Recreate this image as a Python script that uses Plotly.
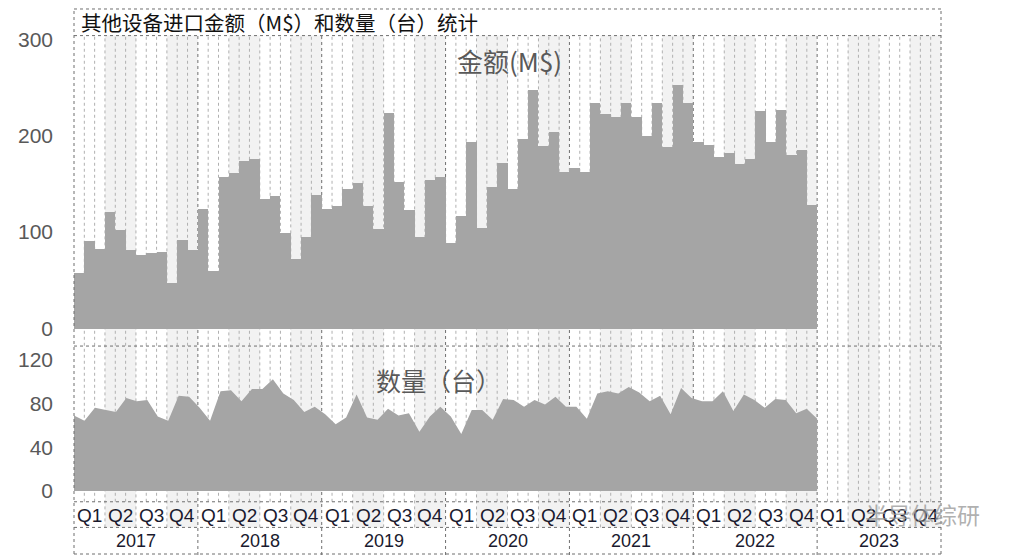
import numpy as np
import plotly.graph_objects as go

# ---------------- data ----------------
years = ["2017", "2018", "2019", "2020", "2021", "2022", "2023"]
quarters = ["Q1", "Q2", "Q3", "Q4"]
title_text = "其他设备进口金额（M$）和数量（台）统计"
amount_label = "金额(M$)"
qty_label = "数量（台）"

# monthly import amount (M$), Jan 2017 - Dec 2022
amount_musd = [58, 91, 83, 121, 103, 82, 77, 79, 80, 47, 92, 82,
               124, 60, 158, 162, 174, 176, 135, 138, 99, 72, 95, 139,
               124, 128, 145, 151, 127, 104, 224, 152, 123, 95, 155, 158,
               89, 117, 194, 105, 147, 172, 145, 197, 248, 190, 204, 163,
               167, 163, 235, 223, 220, 234, 220, 200, 235, 189, 253, 235,
               194, 191, 178, 183, 171, 176, 226, 194, 227, 180, 186, 129]

# monthly import quantity (units)
quantity_units = [69, 64, 76, 74, 72, 85, 82, 83, 68, 64, 87, 86,
                  76, 64, 91, 92, 82, 93, 93, 102, 89, 83, 72, 77,
                  70, 61, 67, 88, 67, 65, 75, 69, 71, 54, 68, 77,
                  68, 52, 74, 74, 65, 84, 83, 77, 83, 79, 86, 77,
                  77, 66, 89, 91, 89, 95, 90, 82, 87, 70, 94, 85,
                  82, 82, 91, 73, 88, 83, 76, 84, 83, 71, 75, 66]

amount_ticks = [0, 100, 200, 300]
qty_ticks = [0, 40, 80, 120]

# ---------------- layout helpers ----------------
W, H = 1015, 555
X_L, X_R = 74, 941
n_months = 12 * len(years)


def py(pix):
    """pixel row -> paper y"""
    return 1 - pix / H


BAR_COLOR = "#a5a5a5"
STRIPE = "#f2f2f2"
LIGHT_DOT = "#b0b0b0"
DARK_DOT = "#6f6f6f"
AXIS_TXT = "#595959"

fig = go.Figure()

bar_x = np.arange(len(amount_musd)) + 0.5
fig.add_trace(go.Bar(x=bar_x, y=amount_musd, width=1.0, marker=dict(color=BAR_COLOR, line=dict(width=0)),
                     xaxis="x", yaxis="y", showlegend=False, hoverinfo="y"))

area_x = np.linspace(0, len(quantity_units), len(quantity_units))
fig.add_trace(go.Scatter(x=area_x, y=quantity_units, mode="lines", line=dict(width=0, color=BAR_COLOR),
                         fill="tozeroy", fillcolor=BAR_COLOR, xaxis="x", yaxis="y2",
                         showlegend=False, hoverinfo="y"))

shapes = []
# quarter stripes (Q2, Q4), running through both panels and the quarter row
for yi in range(len(years)):
    for q in (1, 3):
        x0 = 12 * yi + 3 * q
        shapes.append(dict(type="rect", xref="x", yref="paper", x0=x0, x1=x0 + 3,
                           y0=py(527), y1=py(28), fillcolor=STRIPE, line=dict(width=0), layer="below"))

# month boundaries
for m in range(1, n_months):
    if m % 12 == 0:
        continue
    y_bot = 527 if m % 3 == 0 else 501
    shapes.append(dict(type="line", xref="x", yref="paper", x0=m, x1=m, y0=py(y_bot), y1=py(28),
                       line=dict(color=LIGHT_DOT, width=1, dash="dot"), layer="below"))
# year boundaries
for yi in range(1, len(years)):
    shapes.append(dict(type="line", xref="x", yref="paper", x0=12 * yi, x1=12 * yi, y0=py(555), y1=py(28),
                       line=dict(color=DARK_DOT, width=1, dash="dot"), layer="below"))

# outer frame and horizontal separators
xl, xr = X_L / W, X_R / W
for pix in (1, 28, 343, 501, 527, 554):
    shapes.append(dict(type="line", xref="paper", yref="paper", x0=xl, x1=xr, y0=py(pix), y1=py(pix),
                       line=dict(color=DARK_DOT, width=1, dash="dot"), layer="above"))
for xp in (xl, xr):
    shapes.append(dict(type="line", xref="paper", yref="paper", x0=xp, x1=xp, y0=py(554), y1=py(1),
                       line=dict(color=DARK_DOT, width=1, dash="dot"), layer="above"))

annotations = []
annotations.append(dict(text=title_text, xref="paper", yref="paper", x=79 / W, y=py(14),
                        xanchor="left", yanchor="middle", showarrow=False,
                        font=dict(family="Noto Sans CJK SC", size=20.5, color="#111111")))
annotations.append(dict(text=amount_label, xref="paper", yref="paper", x=509 / W, y=py(53),
                        xanchor="center", yanchor="middle", showarrow=False,
                        font=dict(family="Noto Sans CJK SC", size=26, color=AXIS_TXT)))
annotations.append(dict(text=qty_label, xref="paper", yref="paper", x=438 / W, y=py(377),
                        xanchor="center", yanchor="middle", showarrow=False,
                        font=dict(family="Noto Sans CJK SC", size=25, color=AXIS_TXT)))
for yi, yr in enumerate(years):
    for qi, ql in enumerate(quarters):
        annotations.append(dict(text=ql, xref="x", yref="paper", x=12 * yi + 3 * qi + 1.5, y=py(515),
                                xanchor="center", yanchor="middle", showarrow=False,
                                font=dict(family="Liberation Sans", size=19, color="#1a1a2e")))
    annotations.append(dict(text=yr, xref="x", yref="paper", x=12 * yi + 6, y=py(541),
                            xanchor="center", yanchor="middle", showarrow=False,
                            font=dict(family="Liberation Sans", size=18, color="#1a1a2e")))
# watermark
annotations.append(dict(text="半导体综研", xref="paper", yref="paper", x=922 / W, y=py(513),
                        xanchor="center", yanchor="middle", showarrow=False,
                        font=dict(family="Noto Sans CJK SC", size=23, color="rgba(150,150,150,0.75)")))

# axis ranges so that data values land on the picture's pixel rows
top_ppu = (325 - 32) / 300.0
bot_ppu = (490 - 356.7) / 120.0
y1_range = [-(343 - 325) / top_ppu, 300 + (32 - 28) / top_ppu]
y2_range = [-(501 - 490) / bot_ppu, 120 + (356.7 - 343) / bot_ppu]

fig.update_layout(
    width=W, height=H,
    margin=dict(l=0, r=0, t=0, b=0),
    paper_bgcolor="white", plot_bgcolor="rgba(0,0,0,0)",
    bargap=0,
    xaxis=dict(domain=[xl, xr], range=[0, n_months], showgrid=False, zeroline=False,
               showticklabels=False, ticks="", showline=False, fixedrange=True),
    yaxis=dict(domain=[py(343), py(28)], range=y1_range, tickvals=amount_ticks, showgrid=False,
               zeroline=False, showline=False, ticks="", ticklabelstandoff=20,
               tickfont=dict(family="Liberation Sans", size=21, color=AXIS_TXT)),
    yaxis2=dict(domain=[py(501), py(343)], range=y2_range, tickvals=qty_ticks, showgrid=False,
                zeroline=False, showline=False, ticks="", ticklabelstandoff=20, anchor="x",
                tickfont=dict(family="Liberation Sans", size=21, color=AXIS_TXT)),
    shapes=shapes,
    annotations=annotations,
)

fig.write_html("out.html", config={"displayModeBar": False},
               post_script="document.body.style.margin='0px';")
